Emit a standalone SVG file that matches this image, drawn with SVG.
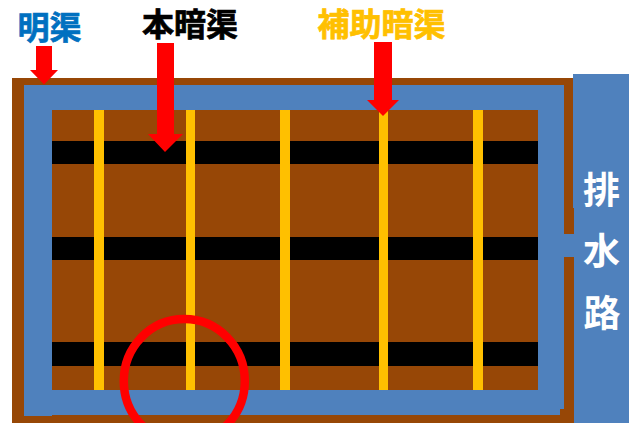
<svg xmlns="http://www.w3.org/2000/svg" width="629" height="423" viewBox="0 0 629 423">
<style>
.brown{fill:#974706}.blue{fill:#4f81bd}.black{fill:#000}.yellow{fill:#ffc000}.red{fill:#f00}
text{font-family:"Noto Sans CJK JP","Noto Sans CJK SC",sans-serif;font-weight:700;text-anchor:middle}
.lab{font-size:32px;stroke-width:.7px}.drain{font-size:37px;fill:#fff}
</style>
<rect width="629" height="423" fill="#fff"/>
<g id="field">
<rect class="brown" x="12" y="78" width="562" height="345"/>
<path class="blue" d="M24 85H564V409H560V415H52V416H24Z"/>
<rect class="brown" x="52" y="110" width="486" height="280"/>
</g>
<g id="main-drains">
<rect class="black" x="52" y="141" width="486" height="23"/>
<rect class="black" x="52" y="237" width="486" height="23"/>
<rect class="black" x="52" y="342" width="486" height="24"/>
</g>
<g id="aux-drains">
<rect class="yellow" x="94" y="110" width="10" height="280"/>
<rect class="yellow" x="186" y="110" width="9" height="280"/>
<rect class="yellow" x="280" y="110" width="10" height="280"/>
<rect class="yellow" x="379" y="110" width="9" height="280"/>
<rect class="yellow" x="473" y="110" width="10" height="280"/>
</g>
<g id="outlet">
<path class="blue" d="M573 74H629V423H574V257H560V234H574V208H573Z"/>
<text class="drain" x="601.500" y="204">排</text>
<text class="drain" x="601.500" y="265">水</text>
<text class="drain" x="602" y="327">路</text>
</g>
<g id="circle"><ellipse cx="184.300" cy="381" rx="60.500" ry="62" fill="none" stroke="#f00" stroke-width="8.500"/></g>
<g id="connectors">
<path class="red" d="M36 46H52V70H58L44 84.500L30 70H36Z"/>
<path class="red" d="M157 43H174V134H183L165 152L148 134H157Z"/>
<path class="red" d="M374 42H392V100H399L383 116L367 100H374Z"/>
</g>
<g id="label-open"><text class="lab" x="49.500" y="39" fill="#0070c0" stroke="#0070c0">明渠</text></g>
<g id="label-main"><text class="lab" x="190" y="36" fill="#000" stroke="#000">本暗渠</text></g>
<g id="label-aux"><text class="lab" x="381.500" y="36" fill="#ffc000" stroke="#ffc000">補助暗渠</text></g>
</svg>
